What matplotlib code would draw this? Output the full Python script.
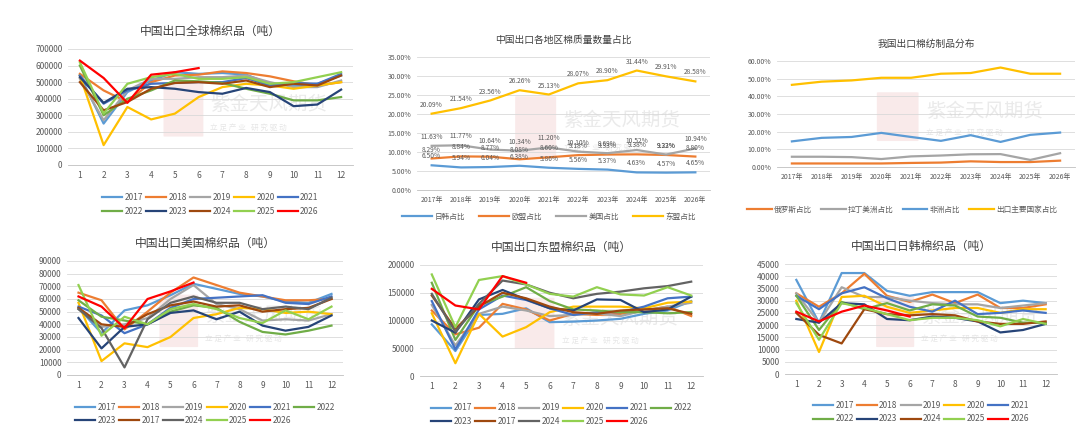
import matplotlib.pyplot as plt
from matplotlib.patches import FancyBboxPatch

plt.rcParams['font.family'] = ['Noto Sans CJK SC', 'DejaVu Sans']

months = list(range(1, 13))
years_label = ['2017年', '2018年', '2019年', '2020年', '2021年',
               '2022年', '2023年', '2024年', '2025年', '2026年']

C17 = '#5B9BD5'
C18 = '#ED7D31'
C19 = '#A5A5A5'
C20 = '#FFC000'
C21 = '#4472C4'
C22 = '#70AD47'
C23 = '#264478'
C24 = '#9E480E'
C25 = '#92D050'
C26 = '#FF0000'
CGRAY = '#636363'

# global exports (tonnes)
g2017 = [540000, 250000, 440000, 510000, 560000, 550000, 555000, 545000, 490000, 480000, 490000, 540000]
g2018 = [550000, 450000, 380000, 500000, 540000, 545000, 565000, 555000, 535000, 505000, 480000, 500000]
g2019 = [520000, 270000, 450000, 520000, 520000, 530000, 530000, 540000, 500000, 470000, 470000, 510000]
g2020 = [540000, 120000, 350000, 275000, 310000, 410000, 470000, 490000, 480000, 460000, 480000, 500000]
g2021 = [540000, 370000, 450000, 490000, 495000, 500000, 500000, 525000, 480000, 495000, 490000, 550000]
g2022 = [600000, 300000, 400000, 450000, 510000, 505000, 495000, 460000, 430000, 390000, 390000, 410000]
g2023 = [530000, 375000, 460000, 470000, 460000, 440000, 430000, 465000, 440000, 355000, 365000, 455000]
g2024 = [500000, 330000, 380000, 460000, 495000, 500000, 490000, 510000, 470000, 490000, 480000, 540000]
g2025 = [620000, 310000, 490000, 530000, 550000, 520000, 520000, 530000, 490000, 500000, 530000, 560000]
g2026 = [630000, 525000, 375000, 545000, 560000, 585000]

# US exports
u2017 = [53000, 33000, 51000, 55000, 63000, 72000, 68000, 64000, 62000, 58000, 57000, 64000]
u2018 = [65000, 59000, 36000, 50000, 65000, 77000, 71000, 65000, 62000, 59000, 59000, 60000]
u2019 = [52000, 38000, 40000, 45000, 60000, 71000, 56000, 52000, 43000, 44000, 43000, 48000]
u2020 = [57000, 11000, 25000, 22000, 30000, 45000, 48000, 53000, 52000, 49000, 50000, 48000]
u2021 = [54000, 47000, 33000, 40000, 53000, 60000, 61000, 62000, 63000, 57000, 56000, 62000]
u2022 = [59000, 46000, 43000, 40000, 50000, 55000, 53000, 42000, 34000, 32000, 35000, 39000]
u2023 = [45000, 21000, 38000, 40000, 49000, 51000, 44000, 50000, 39000, 35000, 38000, 47000]
u2017b = [53000, 40000, 38000, 48000, 55000, 58000, 54000, 55000, 50000, 52000, 53000, 60000]
u2024 = [52000, 37000, 6000, 44000, 57000, 62000, 57000, 57000, 52000, 54000, 52000, 61000]
u2025 = [71000, 31000, 46000, 40000, 52000, 56000, 52000, 45000, 41000, 51000, 44000, 54000]
u2026 = [62000, 54000, 37000, 60000, 66000, 73000]

# ASEAN exports
a2017 = [93000, 45000, 110000, 112000, 122000, 97000, 98000, 100000, 103000, 112000, 118000, 135000]
a2018 = [118000, 75000, 87000, 130000, 120000, 100000, 112000, 110000, 112000, 118000, 125000, 108000]
a2019 = [128000, 55000, 112000, 125000, 118000, 108000, 110000, 113000, 108000, 118000, 125000, 132000]
a2020 = [113000, 23000, 112000, 71000, 88000, 115000, 125000, 125000, 125000, 122000, 132000, 134000]
a2021 = [135000, 48000, 120000, 145000, 137000, 122000, 110000, 115000, 115000, 125000, 140000, 143000]
a2022 = [168000, 65000, 128000, 143000, 160000, 135000, 120000, 118000, 115000, 115000, 113000, 115000]
a2023 = [100000, 78000, 138000, 155000, 138000, 122000, 118000, 138000, 137000, 115000, 120000, 143000]
a2017b = [145000, 85000, 125000, 150000, 140000, 125000, 115000, 112000, 118000, 120000, 122000, 112000]
a2024 = [148000, 80000, 130000, 172000, 165000, 150000, 140000, 148000, 152000, 158000, 162000, 170000]
a2025 = [183000, 88000, 173000, 180000, 165000, 148000, 143000, 160000, 147000, 145000, 160000, 145000]
a2026 = [157000, 127000, 120000, 180000, 168000]

# Japan / Korea exports
j2017 = [38500, 21000, 41300, 41300, 34000, 32000, 33500, 33500, 33500, 29000, 30000, 29000]
j2018 = [33000, 27500, 33000, 41000, 32000, 29500, 32500, 29000, 32500, 27000, 27000, 28500]
j2019 = [33000, 21000, 35500, 31500, 31500, 30000, 29000, 28500, 28500, 27000, 28000, 29000]
j2020 = [30000, 9000, 31500, 32000, 27500, 25000, 26000, 27000, 27000, 25000, 26500, 26500]
j2021 = [32000, 26500, 33000, 35500, 31000, 27500, 25500, 30000, 24500, 25000, 26000, 25000]
j2022 = [32000, 18000, 29500, 26500, 29000, 26000, 28500, 28000, 23500, 23000, 21000, 21000]
j2023 = [22500, 21000, 29000, 28500, 22500, 22000, 23500, 23000, 21500, 17000, 18000, 20500]
j2024 = [25000, 16000, 12500, 26500, 24500, 24000, 24500, 24000, 21500, 20500, 20500, 21500]
j2025 = [29000, 14000, 29000, 27000, 24500, 22000, 23000, 23000, 22000, 19500, 22500, 20500]
j2026 = [25500, 21500, 25500, 28000, 26000, 23500]

# region shares (%)
share_jk = [6.50, 5.94, 6.04, 6.38, 5.86, 5.56, 5.37, 4.63, 4.57, 4.65]
share_eu = [8.29, 8.84, 8.77, 8.08, 8.60, 9.18, 9.33, 9.38, 9.22, 8.80]
share_us = [11.63, 11.77, 10.64, 10.34, 11.20, 10.10, 9.69, 10.52, 9.33, 10.94]
share_asean = [20.09, 21.54, 23.56, 26.26, 25.13, 28.07, 28.90, 31.44, 29.91, 28.58]

# product distribution (%)
dist_ru = [2.0, 2.0, 2.0, 2.0, 2.3, 2.5, 3.2, 2.8, 2.8, 3.6]
dist_latam = [5.8, 5.8, 5.6, 4.5, 6.0, 6.5, 7.2, 7.3, 4.0, 7.8]
dist_africa = [14.5, 16.5, 17.0, 19.3, 17.0, 14.8, 18.0, 14.2, 18.2, 19.5]
dist_main = [46.5, 48.3, 49.0, 50.5, 50.5, 52.8, 53.2, 56.3, 52.8, 52.8]


def style_ax(ax, ymax, step, fmt):
    ax.set_ylim(0, ymax)
    ax.set_yticks([i * step for i in range(int(round(ymax / step)) + 1)])
    ax.set_yticklabels([fmt(i * step) for i in range(int(round(ymax / step)) + 1)])
    ax.grid(axis='y', color='#d9d9d9', lw=0.6)
    ax.set_axisbelow(True)
    for s in ['top', 'right', 'left']:
        ax.spines[s].set_visible(False)
    ax.spines['bottom'].set_color('#bfbfbf')
    ax.spines['bottom'].set_linewidth(0.6)
    ax.tick_params(length=0, labelsize=6, colors='#595959', pad=4)


def watermark(ax):
    ax.text(0.5, 0.52, '紫金天风期货', transform=ax.transAxes, fontsize=14,
            color='#dcdcdc', alpha=0.6, ha='left', va='center', zorder=0)
    ax.text(0.5, 0.32, '立 足 产 业   研 究 驱 动', transform=ax.transAxes, fontsize=5.5,
            color='#dcdcdc', alpha=0.7, ha='left', va='center', zorder=0)
    ax.add_patch(FancyBboxPatch((0.34, 0.25), 0.13, 0.45, transform=ax.transAxes,
                                boxstyle='round,pad=0.005', fc='#f4d6d6', ec='none',
                                alpha=0.5, zorder=0))


def legend_rows(ax, lines, labels, ncol, anchor_y):
    n = len(lines)
    order = []
    rows = (n + ncol - 1) // ncol
    for c in range(ncol):
        for r in range(rows):
            i = r * ncol + c
            if i < n:
                order.append(i)
    ax.legend([lines[i] for i in order], [labels[i] for i in order], ncol=ncol,
              loc='upper center', bbox_to_anchor=(0.5, anchor_y), frameon=False,
              fontsize=6, handlelength=2.4, columnspacing=0.35, handletextpad=0.3,
              labelspacing=0.5, labelcolor='#595959')


def monthly(ax, title, series, ymax, step, ncol, anchor_y):
    lines, labels = [], []
    for lab, vals, col in series:
        ln, = ax.plot(months[:len(vals)], vals, color=col, lw=1.6)
        lines.append(ln)
        labels.append(lab)
    style_ax(ax, ymax, step, lambda v: f'{int(v)}')
    ax.set_xlim(0.5, 12.5)
    ax.set_xticks(months)
    ax.set_title(title, fontsize=8.5, color='#404040', pad=10)
    watermark(ax)
    legend_rows(ax, lines, labels, ncol, anchor_y)


fig = plt.figure(figsize=(10.8, 4.38), dpi=100)
W, H = 1080, 438


def add_ax(x0, y0, x1, y1):
    return fig.add_axes([x0 / W, 1 - y1 / H, (x1 - x0) / W, (y1 - y0) / H])


# panel 1
ax1 = add_ax(68, 49, 353, 165)
monthly(ax1, '中国出口全球棉织品（吨）', [
    ('2017', g2017, C17), ('2018', g2018, C18), ('2019', g2019, C19),
    ('2020', g2020, C20), ('2021', g2021, C21), ('2022', g2022, C22),
    ('2023', g2023, C23), ('2024', g2024, C24), ('2025', g2025, C25),
    ('2026', g2026, C26)], 700000, 100000, 5, -0.18)

# panel 4
ax4 = add_ax(67, 261, 343, 375)
monthly(ax4, '中国出口美国棉织品（吨）', [
    ('2017', u2017, C17), ('2018', u2018, C18), ('2019', u2019, C19),
    ('2020', u2020, C20), ('2021', u2021, C21), ('2022', u2022, C22),
    ('2023', u2023, C23), ('2017', u2017b, C24), ('2024', u2024, CGRAY),
    ('2025', u2025, C25), ('2026', u2026, C26)], 90000, 10000, 6, -0.18)

# panel 5
ax5 = add_ax(420, 265, 703, 376)
monthly(ax5, '中国出口东盟棉织品（吨）', [
    ('2017', a2017, C17), ('2018', a2018, C18), ('2019', a2019, C19),
    ('2020', a2020, C20), ('2021', a2021, C21), ('2022', a2022, C22),
    ('2023', a2023, C23), ('2017', a2017b, C24), ('2024', a2024, CGRAY),
    ('2025', a2025, C25), ('2026', a2026, C26)], 200000, 50000, 6, -0.18)

# panel 6
ax6 = add_ax(785, 264, 1057, 374)
monthly(ax6, '中国出口日韩棉织品（吨）', [
    ('2017', j2017, C17), ('2018', j2018, C18), ('2019', j2019, C19),
    ('2020', j2020, C20), ('2021', j2021, C21), ('2022', j2022, C22),
    ('2023', j2023, C23), ('2024', j2024, C24), ('2025', j2025, C25),
    ('2026', j2026, C26)], 45000, 5000, 5, -0.18)

# panel 2: region shares
ax2 = add_ax(417, 57, 710, 190)
xs = list(range(len(years_label)))
share_series = [('日韩占比', share_jk, C17), ('欧盟占比', share_eu, C18),
                ('美国占比', share_us, C19), ('东盟占比', share_asean, C20)]
lines2 = []
for lab, vals, col in share_series:
    ln, = ax2.plot(xs, vals, color=col, lw=1.6)
    lines2.append(ln)
    for x, v in zip(xs, vals):
        ax2.annotate(f'{v:.2f}%', (x, v), xytext=(0, 5), textcoords='offset points',
                     ha='center', fontsize=4.8, color='#595959')
style_ax(ax2, 35, 5, lambda v: f'{v:.2f}%')
ax2.tick_params(labelsize=5)
ax2.set_xlim(-0.5, len(xs) - 0.5)
ax2.set_xticks(xs)
ax2.set_xticklabels(years_label)
ax2.set_title('中国出口各地区棉质量数量占比', fontsize=7, color='#404040', pad=10)
watermark(ax2)
ax2.legend(lines2, [s[0] for s in share_series], ncol=4, loc='upper center',
           bbox_to_anchor=(0.45, -0.12), frameon=False, fontsize=5.5, handlelength=4,
           columnspacing=1.8, handletextpad=0.3, labelcolor='#595959')

# panel 3: distribution
ax3 = add_ax(777, 61, 1075, 167)
dist_series = [('俄罗斯占比', dist_ru, C18), ('拉丁美洲占比', dist_latam, C19),
               ('非洲占比', dist_africa, C17), ('出口主要国家占比', dist_main, C20)]
lines3 = []
for lab, vals, col in dist_series:
    ln, = ax3.plot(xs, vals, color=col, lw=1.6)
    lines3.append(ln)
style_ax(ax3, 60, 10, lambda v: f'{v:.2f}%')
ax3.tick_params(labelsize=5)
ax3.set_xlim(-0.5, len(xs) - 0.5)
ax3.set_xticks(xs)
ax3.set_xticklabels(years_label)
ax3.set_title('我国出口棉纺制品分布', fontsize=7, color='#404040', pad=10)
watermark(ax3)
ax3.legend(lines3, [s[0] for s in dist_series], ncol=4, loc='upper center',
           bbox_to_anchor=(0.42, -0.3), frameon=False, fontsize=5.5, handlelength=3.2,
           columnspacing=1.2, handletextpad=0.3, labelcolor='#595959')

fig.savefig('out.png', dpi=100)
